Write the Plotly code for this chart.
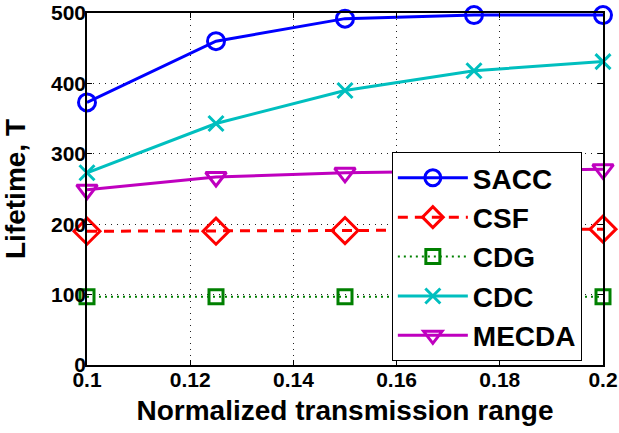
import plotly.graph_objects as go

x_vals = [0.1, 0.125, 0.15, 0.175, 0.2]
sacc = [373, 460, 492, 497, 497]
csf = [190, 190, 191, 192, 193]
cdg = [97, 97, 97, 97, 97]
cdc = [273, 343, 390, 418, 431]
mecda = [249, 267, 273, 275, 278]

x_ticks = [0.1, 0.12, 0.14, 0.16, 0.18, 0.2]
x_tick_text = ["0.1", "0.12", "0.14", "0.16", "0.18", "0.2"]
y_ticks = [0, 100, 200, 300, 400, 500]

FONT = "Liberation Sans, Arial, Helvetica, sans-serif"

series = [
    ("SACC", sacc, "#0000FF", "solid", "circle-open", 17),
    ("CSF", csf, "#FF0000", "10px,7px", "diamond-open", 20),
    ("CDG", cdg, "#008000", "2px,4px", "square-open", 14),
    ("CDC", cdc, "#00BFBF", "solid", "x-thin-open", 15),
    ("MECDA", mecda, "#BF00BF", "solid", "triangle-down-open", 18),
]

fig = go.Figure()
for i, (name, vals, color, dash, sym, size) in enumerate(series):
    lw = 2 if name == "CDG" else 3
    fig.add_trace(go.Scatter(
        x=x_vals, y=vals, name=name, mode="lines+markers",
        legendgroup=name,
        line=dict(color=color, width=lw, dash=dash),
        marker=dict(symbol=sym, size=size, color=color,
                    line=dict(color=color, width=3)),
        cliponaxis=False,
    ))

axis_common = dict(
    showline=True, linecolor="black", linewidth=1.5, mirror="ticks",
    ticks="inside", ticklen=5, tickcolor="black",
    showgrid=True, gridcolor="#222222", griddash="1px,5px", gridwidth=1,
    zeroline=False, automargin=False, ticklabeloverflow="allow",
    tickfont=dict(family=FONT, size=21, color="black", weight="bold"),
)

fig.update_xaxes(
    range=[0.1, 0.2], tickvals=x_ticks, ticktext=x_tick_text,
    ticklabelstandoff=-5,
    title=dict(text="Normalized transmission range", standoff=10,
               font=dict(family=FONT, size=28, color="black", weight="bold")),
    **axis_common,
)
fig.update_yaxes(
    range=[0, 500], tickvals=y_ticks,
    ticklabelstandoff=-5,
    title=dict(text="Lifetime, T", standoff=17,
               font=dict(family=FONT, size=28, color="black", weight="bold")),
    **axis_common,
)

fig.update_layout(
    width=619, height=433,
    margin=dict(l=87, r=16, t=13, b=68),
    paper_bgcolor="white", plot_bgcolor="white",
    showlegend=True,
    legend=dict(
        x=0.959, y=0.605, xanchor="right", yanchor="top",
        bgcolor="white", bordercolor="black", borderwidth=1,
        font=dict(family=FONT, size=28, color="black", weight="bold"),
        itemwidth=70, tracegroupgap=0, traceorder="grouped",
    ),
)

# remove the default 8px page margin so the figure fills the window exactly
fig.write_html("out.html", config={"displayModeBar": False},
               post_script="document.body.style.margin='0';")
